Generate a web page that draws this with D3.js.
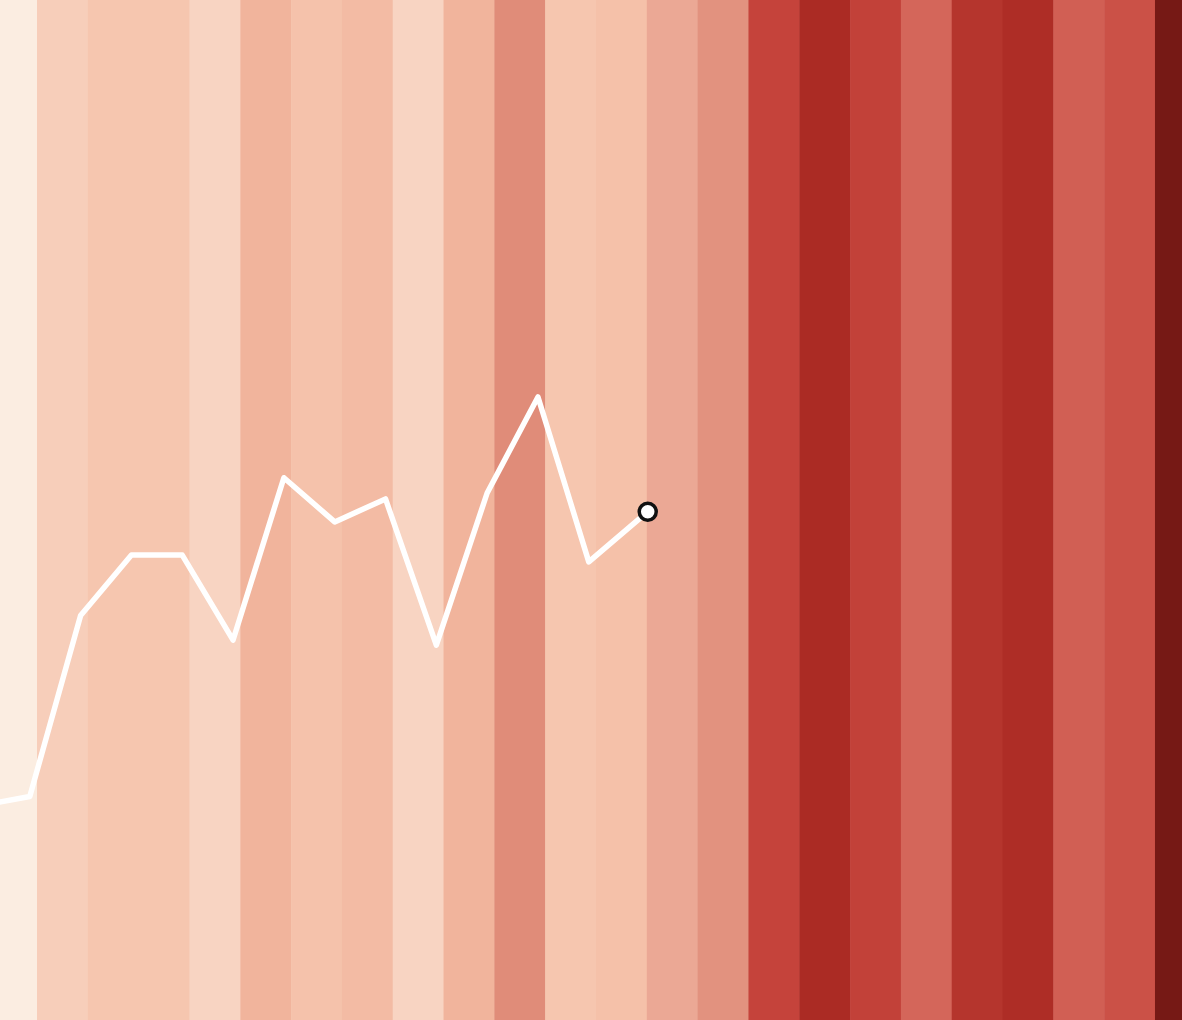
<!DOCTYPE html>
<html>
<head>
<meta charset="utf-8">
<script src="https://cdn.jsdelivr.net/npm/d3@7"></script>
<style>
  html, body { margin: 0; padding: 0; background: #fff; overflow: hidden; }
  svg { display: block; }
</style>
</head>
<body>
<svg id="chart" width="1182" height="1020"></svg>
<script>
// ---- data ----
const stripeYears = d3.range(1990, 2014); // 24 stripes
const stripeAnomaly = [0.00, 0.24, 0.30, 0.30, 0.20, 0.40, 0.32, 0.36, 0.20, 0.40,
                       0.60, 0.30, 0.33, 0.50, 0.58, 0.80, 0.90, 0.81, 0.70, 0.86,
                       0.89, 0.72, 0.76, 1.00];
const lineYears = [1989, 1990, 1991, 1992, 1993, 1994, 1995, 1996, 1997, 1998,
                   1999, 2000, 2001, 2002.16];
const lineValues = [-0.348, -0.337, -0.124, -0.053, -0.053, -0.153, 0.038, -0.014,
                    0.013, -0.159, 0.020, 0.133, -0.061, -0.002];

// ---- scales ----
const W = 1182, H = 1020;
const x = d3.scaleBand().domain(stripeYears).range([-13.8, 1205.8]).padding(0);
const bw = x.bandwidth();
const off = bw * 0.858;
const xl = d3.scaleLinear()
  .domain([stripeYears[0], stripeYears[stripeYears.length - 1]])
  .range([x(stripeYears[0]) + off, x(stripeYears[stripeYears.length - 1]) + off]);
const y = d3.scaleLinear().domain([-0.6, 0.6]).range([H, 0]);

const color = d3.scaleLinear()
  .domain([0.00, 0.20, 0.30, 0.40, 0.50, 0.60, 0.70, 0.80, 0.90, 1.00])
  .range(["#fbede1", "#f8d4c2", "#f6c6af", "#f1b49c", "#eba895", "#e08c79",
          "#d4665a", "#c5433b", "#ab2b24", "#761915"])
  .clamp(true);

const svg = d3.select("#chart");

svg.append("g").selectAll("rect")
  .data(stripeYears)
  .join("rect")
  .attr("x", d => x(d))
  .attr("y", 0)
  .attr("width", bw + 0.5)
  .attr("height", H)
  .attr("fill", (d, i) => color(stripeAnomaly[i]));

const pts = lineYears.map((yr, i) => [xl(yr), y(lineValues[i])]);

svg.append("path")
  .datum(pts)
  .attr("d", d3.line())
  .attr("fill", "none")
  .attr("stroke", "#ffffff")
  .attr("stroke-width", 5.5)
  .attr("stroke-linejoin", "round")
  .attr("stroke-linecap", "round");

const last = pts[pts.length - 1];
svg.append("circle")
  .attr("cx", last[0])
  .attr("cy", last[1])
  .attr("r", 8.5)
  .attr("fill", "#ffffff")
  .attr("stroke", "#111111")
  .attr("stroke-width", 3.5);
</script>
</body>
</html>
